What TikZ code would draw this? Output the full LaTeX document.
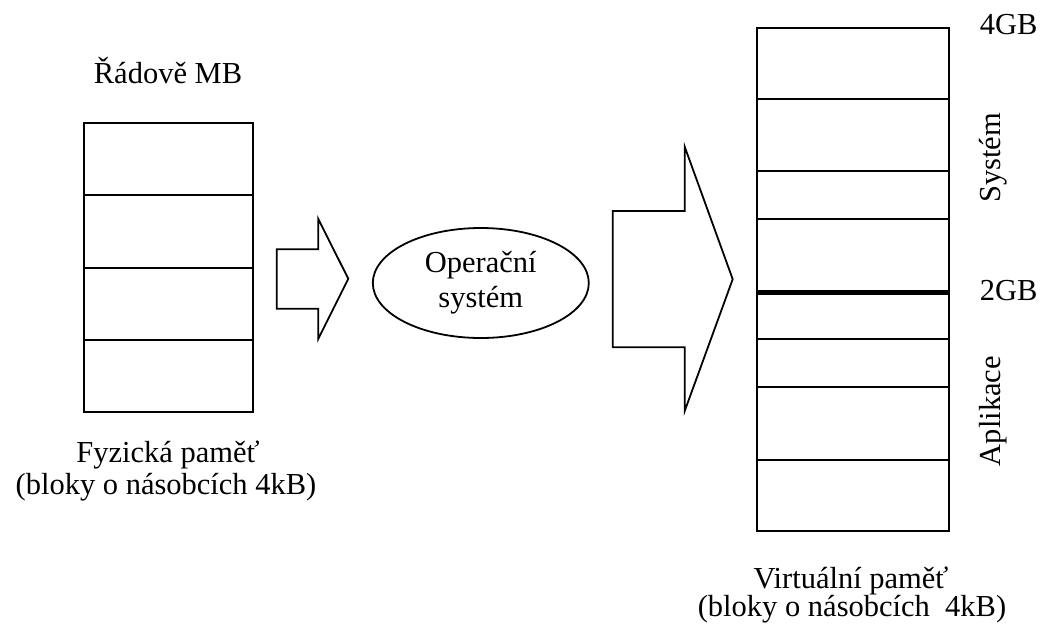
\documentclass[tikz,border=0pt]{standalone}
\usepackage{fontspec}
\setmainfont{Liberation Serif}
\usetikzlibrary{shapes.geometric}
\begin{document}
\begin{tikzpicture}[x=1pt,y=-1pt,line width=1.8pt,
  every node/.style={font=\fontsize{30.5}{35}\selectfont,inner sep=0pt},
  membox/.style={draw,line width=1.8pt},
  blockarrow/.style={draw,line width=1.8pt,line join=miter},
  lbl/.style={anchor=base}]
\useasboundingbox (0,0) rectangle (1041,624);
% physical memory
\node[membox,minimum width=169pt,minimum height=289pt] (phys) at (168.5,267.5) {};
\draw (84,195.3) -- (253,195.3);
\draw (84,267.7) -- (253,267.7);
\draw (84,339.7) -- (253,339.7);
\node[lbl] (mb) at (168,83) {Řádově MB};
\node[lbl] (fyz1) at (168,462) {Fyzická paměť};
\node[lbl] (fyz2) at (166,494) {(bloky o násobcích 4kB)};
% arrow 1
\draw[blockarrow] (276.7,249.3) -- (318.3,249.3) -- (318.3,219) -- (348.3,278.8)
  -- (318.3,338.7) -- (318.3,308.7) -- (276.7,308.7) -- cycle;
% OS
\node[draw,ellipse,line width=1.8pt,minimum width=216pt,minimum height=110pt,align=center] (os) at (480.8,283) {Operační\\systém};
% arrow 2
\draw[blockarrow] (612.7,211) -- (684.7,211) -- (684.7,146.7) -- (732.7,279.2)
  -- (684.7,411) -- (684.7,347.3) -- (612.7,347.3) -- cycle;
% virtual memory
\node[membox,minimum width=192.6pt,minimum height=503.3pt] (virt) at (853,279.35) {};
\foreach \yy in {99,171.3,219.3,339.3,387.3,459.7}{
  \draw (756.7,\yy) -- (949.3,\yy);
}
\draw[line width=5pt] (756.7,292) -- (949.3,292);
\node[anchor=base west] (g4) at (979,34) {4GB};
\node[anchor=base west] (g2) at (979,300) {2GB};
\node[rotate=90] (sys) at (993,158) {Systém};
\node[rotate=90] (app) at (993,411) {Aplikace};
\node[lbl] (virt1) at (851,588) {Virtuální paměť};
\node[lbl] (virt2) at (852,616) {(bloky o násobcích\ \ 4kB)};
\end{tikzpicture}
\end{document}
